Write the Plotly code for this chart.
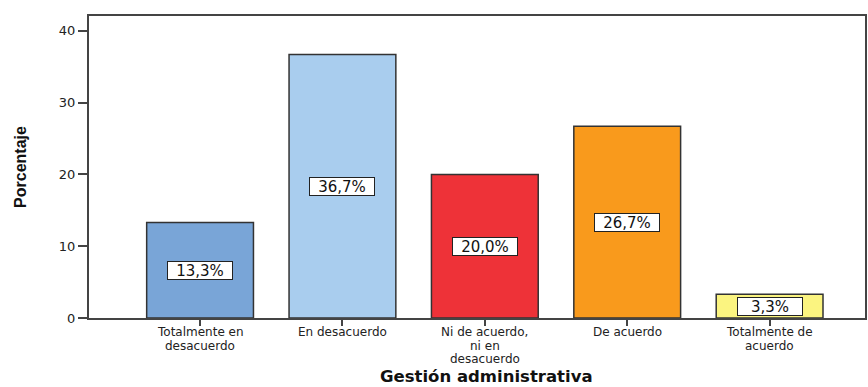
import plotly.graph_objects as go

# Survey results for "Gestión administrativa"
categories = [
    ["Totalmente en", "desacuerdo"],
    ["En desacuerdo"],
    ["Ni de acuerdo,", "ni en", "desacuerdo"],
    ["De acuerdo"],
    ["Totalmente de", "acuerdo"],
]
percentages = [13.3, 36.7, 20.0, 26.7, 3.3]
value_labels = ["13,3%", "36,7%", "20,0%", "26,7%", "3,3%"]
bar_colors = ["#79a5d7", "#a9cdee", "#ee3238", "#f99a1c", "#fbf480"]
y_ticks = [0, 10, 20, 30, 40]

x_idx = list(range(len(categories)))
WIDE = "DejaVu Sans, Verdana, sans-serif"

fig = go.Figure()
fig.add_trace(go.Bar(
    x=x_idx,
    y=percentages,
    width=0.75,
    marker=dict(color=bar_colors, line=dict(color="#333333", width=1.5)),
    hoverinfo="skip",
))

# boxed value labels at the middle of each bar
for xi, v, lab in zip(x_idx, percentages, value_labels):
    fig.add_annotation(
        x=xi, y=v / 2, text=lab, showarrow=False,
        font=dict(family=WIDE, size=15, color="#111"),
        bgcolor="white", bordercolor="#222", borderwidth=1, borderpad=0,
        width=64, height=17,
    )

# category labels, one text line each, stacked under the axis
LINE_STEP = 13.6
for xi, lines in zip(x_idx, categories):
    for k, line in enumerate(lines):
        fig.add_annotation(
            x=xi, y=0, yref="y", text=line, showarrow=False,
            yanchor="middle", yshift=-(14 + LINE_STEP * k),
            borderpad=0,
            font=dict(family=WIDE, size=12, color="#222"),
        )

# x axis title
fig.add_annotation(
    x=0.5, xref="paper", y=0, yref="paper", yanchor="middle",
    xshift=9, yshift=-58,
    text="<b>Gestión administrativa</b>", showarrow=False, borderpad=0,
    font=dict(family=WIDE, size=16.5, color="#111"),
)

fig.update_layout(
    width=868, height=387,
    margin=dict(l=89, r=1, t=16, b=69),
    paper_bgcolor="white", plot_bgcolor="white",
    showlegend=False,
    font=dict(family="Liberation Sans, Arial", color="#222"),
)
fig.update_xaxes(
    range=[-0.78, 4.67],
    tickmode="array", tickvals=x_idx, showticklabels=False,
    ticks="outside", ticklen=6, tickwidth=2, tickcolor="#444",
    showline=True, linecolor="#444", linewidth=1.5, mirror=True,
    showgrid=False, zeroline=False,
)
fig.update_yaxes(
    range=[0, 42.06],
    tickmode="array", tickvals=y_ticks,
    ticks="outside", ticklen=9, tickwidth=1.5, tickcolor="#444",
    tickfont=dict(family=WIDE, size=13, color="#222"),
    showline=True, linecolor="#444", linewidth=2, mirror=True,
    showgrid=False, zeroline=False,
    title=dict(text="<b>Porcentaje</b>",
               font=dict(family="Liberation Sans, Arial", size=16, color="#111"),
               standoff=28),
)

fig.write_html("out.html")
